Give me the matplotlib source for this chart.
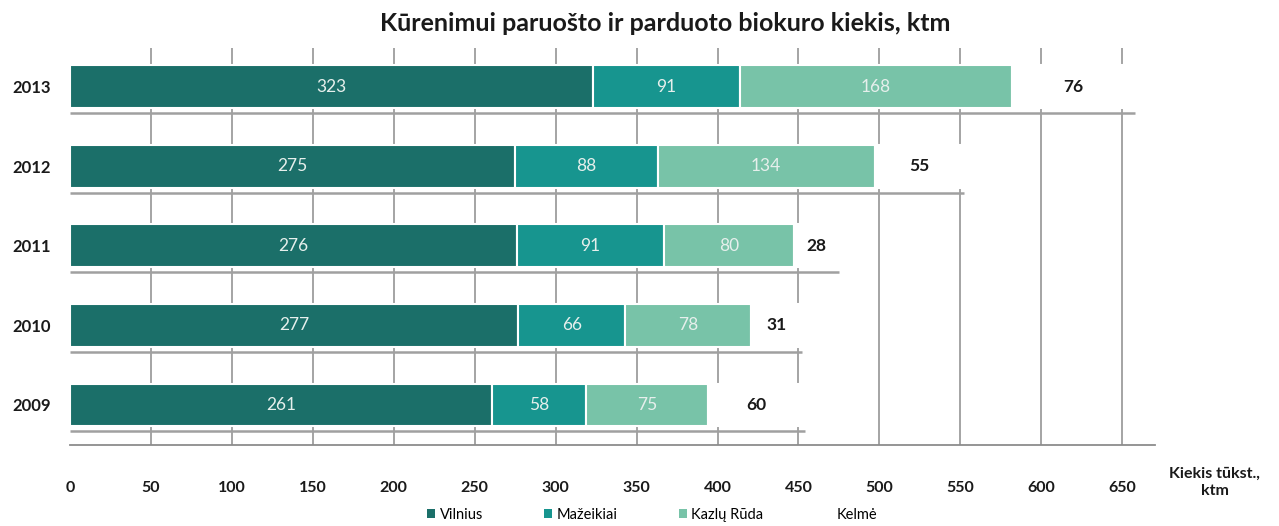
"""Kūrenimui paruošto ir parduoto biokuro kiekis - stacked horizontal bars."""
import matplotlib.pyplot as plt
from matplotlib.patches import Patch

plt.rcParams['font.family'] = ['Lato', 'DejaVu Sans']

years = ['2009', '2010', '2011', '2012', '2013']
vilnius = [261, 277, 276, 275, 323]
mazeikiai = [58, 66, 91, 88, 91]
kazlu_ruda = [75, 78, 80, 134, 168]
kelme = [60, 31, 28, 55, 76]

series = [
    ('Vilnius', vilnius, '#1b6f69'),
    ('Mažeikiai', mazeikiai, '#17958f'),
    ('Kazlų Rūda', kazlu_ruda, '#78c3a8'),
    ('Kelmė', kelme, '#ffffff'),
]

fig = plt.figure(figsize=(12.79, 5.26), dpi=100)
ax = fig.add_axes([0.0547, 0.154, 0.886, 0.755])

ypos = list(range(len(years)))
bar_h = 0.54
y_bottom = -0.503

# vertical gridlines (behind the bars)
for v in range(50, 700, 50):
    ax.plot([v, v], [y_bottom, 4.49], color='#8c8c8c', lw=1.1, zorder=1)

left = [0] * len(years)
for name, vals, col in series:
    ax.barh(ypos, vals, left=left, height=bar_h, color=col,
            edgecolor='white', linewidth=1.5, zorder=3)
    for y, l, v in zip(ypos, left, vals):
        if name == 'Kelmė':
            ax.text(l + v / 2, y, str(v), ha='center', va='center',
                    fontsize=12.5, fontweight='bold', color='#1a1a1a', zorder=5)
        else:
            ax.text(l + v / 2, y, str(v), ha='center', va='center',
                    fontsize=12.5, color='#e6efec', zorder=5)
    left = [a + b for a, b in zip(left, vals)]

# floor / shadow line under each bar
for y, tot in zip(ypos, left):
    yy = y - bar_h / 2 - 0.06
    ax.plot([0, tot], [yy, yy], color='#a0a0a0', lw=1.8, zorder=2,
            solid_capstyle='butt')

# bottom axis line
ax.plot([0, 670], [y_bottom, y_bottom], color='#8c8c8c', lw=1.3, zorder=2,
        clip_on=False)

ax.set_xlim(0, 700)
ax.set_ylim(y_bottom, 4.49)
for s in ax.spines.values():
    s.set_visible(False)
ax.set_xticks(range(0, 700, 50))
ax.set_xticklabels([str(v) for v in range(0, 700, 50)], fontsize=11.5,
                   fontweight='bold', color='#1a1a1a')
ax.tick_params(axis='x', length=0, pad=26)
ax.set_yticks(ypos)
ax.set_yticklabels(years, fontsize=12, fontweight='bold', color='#1a1a1a')
ax.tick_params(axis='y', length=0, pad=14)

ax.text(665 + 42, -0.97, 'Kiekis tūkst.,\nktm', ha='center', va='center',
        fontsize=11.5, fontweight='bold', color='#1a1a1a', linespacing=1.3)

fig.text(0.52, 0.955, 'Kūrenimui paruošto ir parduoto biokuro kiekis, ktm',
         ha='center', va='center', fontsize=18, fontweight='bold',
         color='#1a1a1a')

handles = [Patch(facecolor=c, edgecolor='none', label=n) for n, _, c in series]
fig.legend(handles=handles, loc='center', bbox_to_anchor=(0.51, 0.021),
           ncol=4, frameon=False, fontsize=10.5, handlelength=0.55,
           handleheight=0.55, handletextpad=0.3, columnspacing=4.2)

fig.savefig('out.png', dpi=100)
